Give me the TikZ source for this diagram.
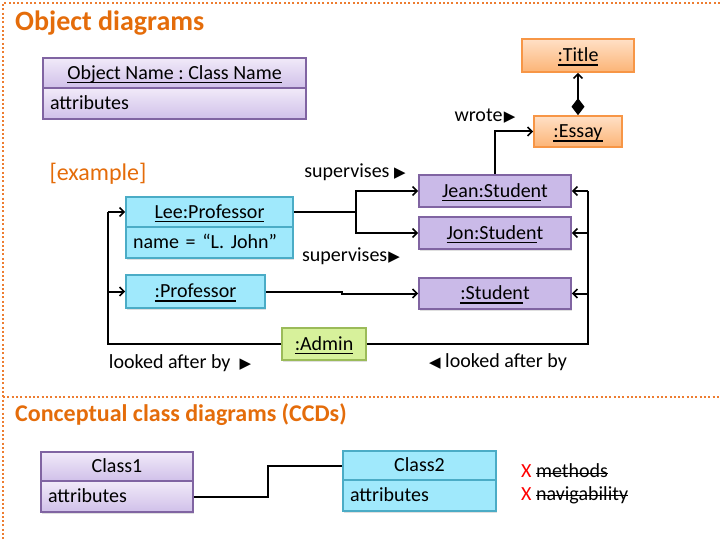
\documentclass[tikz,border=0pt]{standalone}
\usepackage{fontspec}
\setmainfont{Carlito}
\newfontfamily\symf{DejaVu Sans}
\usetikzlibrary{arrows.meta,shadows}
\frenchspacing
\newsavebox\ulbox
\newcommand{\ulin}[1]{\sbox\ulbox{#1}\rlap{\rule[-3.6pt]{\wd\ulbox}{1.2pt}}\usebox\ulbox}
\newcommand{\strk}[1]{\sbox\ulbox{#1}\rlap{\rule[3.8pt]{\wd\ulbox}{1.3pt}}\usebox\ulbox}
\definecolor{ttl}{RGB}{228,108,10}
\definecolor{dotc}{RGB}{237,125,49}
\definecolor{pbord}{RGB}{128,100,162}
\definecolor{pfill}{RGB}{202,186,232}
\definecolor{ptop}{RGB}{241,234,249}
\definecolor{pbot}{RGB}{208,192,233}
\definecolor{cbord}{RGB}{75,172,198}
\definecolor{cfill}{RGB}{160,233,252}
\definecolor{obord}{RGB}{247,150,70}
\definecolor{otop}{RGB}{255,224,198}
\definecolor{obot}{RGB}{252,180,118}
\definecolor{gbord}{RGB}{155,187,89}
\definecolor{gfill}{RGB}{215,241,155}
\newcommand{\rtri}{{\symf\fontsize{15}{16}\selectfont ▶}}
\newcommand{\ltri}{{\symf\fontsize{15}{16}\selectfont ◀}}
\tikzset{
  objbox/.style={draw, line width=1.6pt, inner sep=0pt, text height=12.9pt, text depth=0pt,
    font=\fontsize{20}{24}\selectfont,
    drop shadow={shadow xshift=1pt, shadow yshift=-1.5pt, opacity=0.25}},
  attrbox/.style={objbox, inner xsep=7pt, align=left},
  purple/.style={fill=pfill, draw=pbord},
  purplegrad/.style={top color=ptop, bottom color=pbot, draw=pbord},
  cyanbox/.style={fill=cfill, draw=cbord},
  orangebox/.style={top color=otop, bottom color=obot, draw=obord},
  greenbox/.style={fill=gfill, draw=gbord},
  conn/.style={line width=2pt, black},
  arr/.style={conn, -{Straight Barb[length=4.5pt,width=9pt,line width=1.6pt]}},
  lbl/.style={font=\fontsize{20}{24}\selectfont, inner sep=0pt},
  sect/.style={font=\bfseries\fontsize{28}{32}\selectfont, text=ttl, inner sep=0pt, anchor=west},
  border/.style={draw=dotc, line width=2pt, dash pattern=on 2pt off 2.3pt}
}
\begin{document}
\begin{tikzpicture}[x=1pt,y=-1pt]
\useasboundingbox (0,0) rectangle (720,540);
% dotted borders
\draw[border] (720,3) -- (3,3) -- (3,540);
\draw[border] (3,397) -- (720,397);
% section titles
\node[sect] (t1) at (15,23) {Object diagrams};
\node[sect, font=\bfseries\fontsize{24}{28}\selectfont] (t2) at (15,415) {Conceptual class diagrams (CCDs)};
\node[lbl, text=ttl, font=\fontsize{24}{28}\selectfont] (ex) at (98,174) {[example]};
% generic object box
\node[objbox, purplegrad, minimum width=263pt, minimum height=30pt] (objhead) at (174.5,73) {\ulin{Object Name : Class Name}};
\node[attrbox, purplegrad, minimum width=263pt, minimum height=31pt, text width=249pt] (objattr) at (174.5,103.5) {attributes};
% orange objects
\node[objbox, orangebox, minimum width=112pt, minimum height=33pt] (title) at (578,55.5) {\ulin{:Title}};
\node[objbox, orangebox, minimum width=88pt, minimum height=31pt] (essay) at (578,131.5) {\ulin{:Essay}};
% students
\node[objbox, purple, minimum width=152pt, minimum height=32pt] (jean) at (495,191) {\ulin{Jean:Studen}t};
\node[objbox, purple, minimum width=152pt, minimum height=32pt] (jon) at (495,233) {\ulin{Jon:Studen}t};
\node[objbox, purple, minimum width=152pt, minimum height=31pt] (stud) at (495,293.5) {\ulin{:Studen}t};
% professors
\node[objbox, cyanbox, minimum width=167pt, minimum height=30pt] (lee) at (209.5,212) {\ulin{Lee:Professor}};
\node[attrbox, cyanbox, minimum width=167pt, minimum height=31pt, text width=153pt] (leeattr) at (209.5,242.5) {name = “L. John”};
\node[objbox, cyanbox, minimum width=139pt, minimum height=33pt] (prof) at (195.5,291.5) {\ulin{:Professor}};
% admin
\node[objbox, greenbox, minimum width=84pt, minimum height=32pt] (admin) at (324,344) {\ulin{:Admin}};
% classes
\node[objbox, purplegrad, minimum width=152pt, minimum height=29pt] (c1head) at (117,466.5) {Class1};
\node[attrbox, purplegrad, minimum width=152pt, minimum height=31pt, text width=138pt] (c1attr) at (117,496.5) {attributes};
\node[objbox, cyanbox, minimum width=153pt, minimum height=29pt] (c2head) at (419.5,465.5) {Class2};
\node[attrbox, cyanbox, minimum width=153pt, minimum height=31pt, text width=139pt] (c2attr) at (419.5,495.5) {attributes};
% coordinates
\coordinate (rv) at (588,0);
\coordinate (lv) at (108,0);
\coordinate (sp) at (356,212);
\coordinate (pj) at (342,0);
\coordinate (cj) at (268,0);
% connectors
\draw[conn, {Diamond[length=17pt,width=13pt]}-{Straight Barb[length=4.5pt,width=9pt,line width=1.6pt]}] (essay.north) -- (title.south);
\draw[arr] (jean.north) |- (essay.west);
\draw[conn] (lee.east) -- (sp);
\draw[arr] (sp) |- (jean.west);
\draw[arr] (sp) |- (jon.west);
\draw[arr] (prof.east) -- (prof.east -| pj) -- (stud.west -| pj) -- (stud.west);
\draw[conn] (admin.east) -- (admin.east -| rv) -- (jean.east -| rv);
\draw[arr] (jean.east -| rv) -- (jean.east);
\draw[arr] (jon.east -| rv) -- (jon.east);
\draw[arr] (stud.east -| rv) -- (stud.east);
\draw[conn] (admin.west) -- (admin.west -| lv) -- (lee.west -| lv);
\draw[arr] (lee.west -| lv) -- (lee.west);
\draw[arr] (prof.west -| lv) -- (prof.west);
\draw[conn] (c1attr.east) -- (c1attr.east -| cj) -- (c2head.west -| cj) -- (c2head.west);
% labels
\node[lbl] (lwrote) at (485,116) {wrote\kern1.5pt\rtri};
\node[lbl] (lsup1) at (355,172) {supervises \rtri};
\node[lbl] (lsup2) at (351,256) {supervises\kern1pt\rtri};
\node[lbl] (llab1) at (180,363) {looked after by \ \rtri};
\node[lbl] (llab2) at (498,362) {\ltri\ looked after by};
\node[lbl, anchor=west] (nm) at (521,471) {\textcolor{red}{X} \strk{methods}};
\node[lbl, anchor=west] (nn) at (521,495) {\textcolor{red}{X} \strk{navigability}};
\end{tikzpicture}
\end{document}
